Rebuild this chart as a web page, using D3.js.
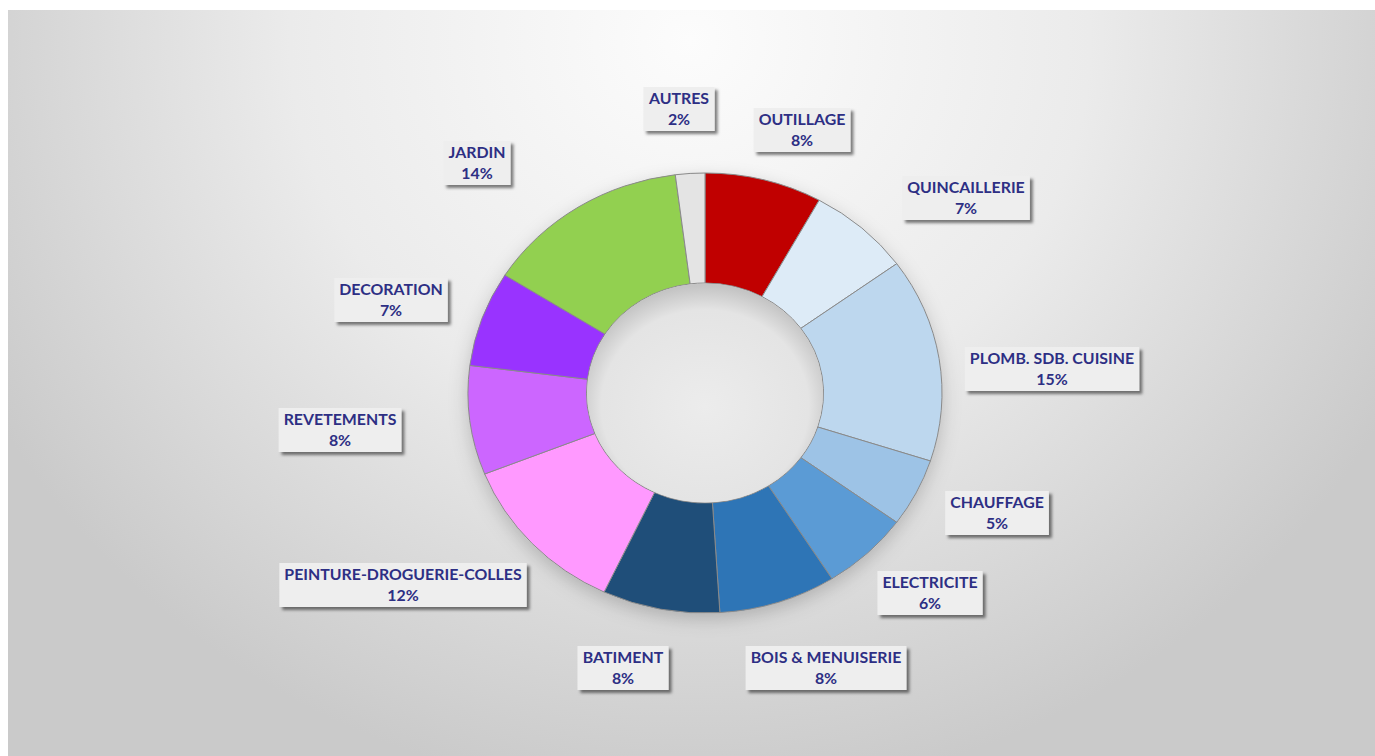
<!DOCTYPE html>
<html>
<head>
<meta charset="utf-8">
<script src="https://cdn.jsdelivr.net/npm/d3@7"></script>
<style>
  html, body { margin: 0; padding: 0; background: #ffffff; }
  svg { display: block; }
  .lbl { font-family: Lato, "Open Sans", sans-serif; font-weight: 700; fill: #2d2f84; }
</style>
</head>
<body>
<svg id="chart" width="1375" height="756"></svg>
<script>
// data
const categories = ["OUTILLAGE", "QUINCAILLERIE", "PLOMB. SDB. CUISINE", "CHAUFFAGE", "ELECTRICITE",
    "BOIS & MENUISERIE", "BATIMENT", "PEINTURE-DROGUERIE-COLLES", "REVETEMENTS", "DECORATION", "JARDIN", "AUTRES"];
const shares = [8, 7, 15, 5, 6, 8, 8, 12, 8, 7, 14, 2];
const sliceColors = ["#c00000", "#ddebf7", "#bdd7ee", "#9dc3e6", "#5b9bd5", "#2e75b6",
    "#1f4e79", "#ff99ff", "#cc66ff", "#9933ff", "#92d050", "#e4e4e4"];

// label positions (offset of the label centre from the donut centre)
const labelOffsets = [[97, -263], [261, -195], [347, -24], [292, 120], [225, 200], [121, 275],
    [-82, 275], [-302, 192], [-365, 37], [-314, -93], [-228, -230], [-26, -284]];

const W = 1375, H = 756;
const cx = 705, cy = 393;
const rOuter = 220, rInner = 110, stretch = 237 / 220;

const svg = d3.select("#chart");
const defs = svg.append("defs");

// background gradient
const bg = defs.append("radialGradient")
    .attr("id", "bg")
    .attr("gradientUnits", "userSpaceOnUse")
    .attr("cx", 690).attr("cy", 40).attr("r", 800)
    .attr("gradientTransform", "translate(690,40) scale(1,0.95) translate(-690,-40)");
bg.append("stop").attr("offset", 0).attr("stop-color", "#fcfcfc");
bg.append("stop").attr("offset", 0.5).attr("stop-color", "#ebebeb");
bg.append("stop").attr("offset", 1).attr("stop-color", "#cacaca");

// hole shading
const hole = defs.append("radialGradient")
    .attr("id", "hole")
    .attr("cx", 0.5).attr("cy", 0.56).attr("r", 0.55);
hole.append("stop").attr("offset", 0).attr("stop-color", "#ececec");
hole.append("stop").attr("offset", 0.8).attr("stop-color", "#e4e4e4");
hole.append("stop").attr("offset", 1).attr("stop-color", "#c4c4c4");

const shadow = defs.append("filter").attr("id", "shadow")
    .attr("x", "-20%").attr("y", "-20%").attr("width", "140%").attr("height", "140%");
shadow.append("feDropShadow")
    .attr("dx", 0).attr("dy", 6).attr("stdDeviation", 9)
    .attr("flood-color", "#000").attr("flood-opacity", 0.2);

const boxShadow = defs.append("filter").attr("id", "boxShadow")
    .attr("x", "-10%").attr("y", "-20%").attr("width", "130%").attr("height", "160%");
boxShadow.append("feDropShadow")
    .attr("dx", 3).attr("dy", 3).attr("stdDeviation", 1.5)
    .attr("flood-color", "#000").attr("flood-opacity", 0.5);

svg.append("rect")
    .attr("x", 8).attr("y", 10)
    .attr("width", W - 8).attr("height", H - 10)
    .attr("fill", "url(#bg)");

const pie = d3.pie().sort(null).value(d => d);
const arcs = pie(shares);
const arc = d3.arc().innerRadius(rInner).outerRadius(rOuter);

const g = svg.append("g")
    .attr("transform", `translate(${cx},${cy}) scale(${stretch},1)`);

// soft shadow under the ring
g.append("circle")
    .attr("r", rOuter)
    .attr("fill", "#d8d8d8")
    .attr("filter", "url(#shadow)");

g.selectAll("path.slice")
    .data(arcs)
    .join("path")
    .attr("class", "slice")
    .attr("d", arc)
    .attr("fill", (d, i) => sliceColors[i])
    .attr("stroke", "#8a8a8a")
    .attr("stroke-width", 1)
    .attr("vector-effect", "non-scaling-stroke");

g.append("circle")
    .attr("r", rInner - 0.5)
    .attr("fill", "url(#hole)");

// labels
const labels = svg.append("g");
const lg = labels.selectAll("g.lbl-box")
    .data(arcs)
    .join("g")
    .attr("class", "lbl-box")
    .attr("transform", (d, i) => `translate(${cx + labelOffsets[i][0]},${cy + labelOffsets[i][1]})`);

lg.each(function (d, i) {
    const el = d3.select(this);
    const box = el.append("rect").attr("fill", "#eeeeee").attr("filter", "url(#boxShadow)");
    const t = el.append("text")
        .attr("class", "lbl")
        .attr("text-anchor", "middle")
        .attr("transform", "scale(1.06,1)")
        .style("font-size", "15px");
    t.append("tspan").attr("x", 0).attr("y", -10).attr("dy", "0.35em").text(categories[i]);
    t.append("tspan").attr("x", 0).attr("y", 11).attr("dy", "0.35em").text(d3.format(".0%")(shares[i] / d3.sum(shares)));
    const w = t.node().getBBox().width * 1.06;
    box.attr("x", -w / 2 - 5).attr("y", -22).attr("width", w + 10).attr("height", 44);
});
</script>
</body>
</html>
